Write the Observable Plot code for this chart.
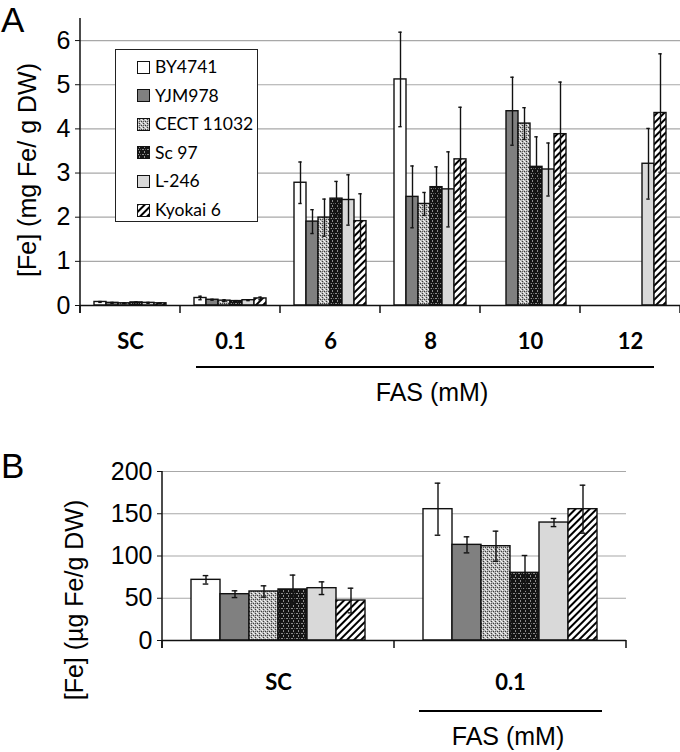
<!DOCTYPE html>
<html><head><meta charset="utf-8">
<script src="https://cdn.jsdelivr.net/npm/d3@7"></script>
<script src="https://cdn.jsdelivr.net/npm/@observablehq/plot@0.6"></script>
<style>
body{margin:0;background:#fff;}
#wrap{position:relative;width:680px;height:752px;background:#fff;overflow:hidden;font-family:"Liberation Sans",Arial,sans-serif;color:#000}
#wrap svg.plot{position:absolute;left:0}
.ytitle{position:absolute;white-space:nowrap;font-size:25px;transform:translate(-50%,-50%) rotate(-90deg);line-height:25px}
.fas{position:absolute;white-space:nowrap;font-size:25px;line-height:25px;transform:translateX(-50%)}
.fasline{position:absolute;height:2px;background:#000}
.panel{position:absolute;font-size:35px;line-height:36px;padding:2px 2px 2px 1px}
#legend{position:absolute;left:115px;top:49px;width:141px;height:171px;border:1px solid #222;background:#fff;font-family:Lato,"Open Sans",sans-serif;font-size:17.5px}
#legend .item{position:absolute;left:21px;height:20px;line-height:20px;display:flex;align-items:center}
#legend .item svg{margin-right:5px}
</style></head><body>
<svg width="0" height="0" style="position:absolute">
<defs>
  <pattern id="pCect" patternUnits="userSpaceOnUse" width="4" height="4">
    <rect width="4" height="4" fill="#b8b8b8"/>
    <rect x="0" y="3" width="1" height="1" fill="#3a3a3a"/>
    <rect x="1" y="2" width="1" height="1" fill="#f2f2f2"/>
    <rect x="2" y="1" width="1" height="1" fill="#3a3a3a"/>
    <rect x="3" y="0" width="1" height="1" fill="#f2f2f2"/>
    <rect x="0" y="1" width="1" height="1" fill="#f2f2f2"/>
    <rect x="2" y="3" width="1" height="1" fill="#5a5a5a"/>
  </pattern>
  <pattern id="pSc" patternUnits="userSpaceOnUse" width="5" height="5">
    <rect width="5" height="5" fill="#141414"/>
    <rect x="2" y="0" width="1" height="2" fill="#8c8c8c"/>
    <rect x="0" y="3" width="2" height="1" fill="#8c8c8c"/>
    <rect x="3" y="3" width="1" height="1" fill="#5a5a5a"/>
  </pattern>
  <pattern id="pKyo" patternUnits="userSpaceOnUse" width="5" height="5" patternTransform="rotate(45)">
    <rect width="5" height="5" fill="#fff"/>
    <rect x="0" y="0" width="2" height="5" fill="#000"/>
  </pattern>
</defs></svg>
<div id="wrap">
  <div class="panel" style="left:0;top:0">A</div>
  <div class="panel" style="left:0;top:446px">B</div>
  <div class="ytitle" style="left:27px;top:170px">[Fe] (mg Fe/ g DW)</div>
  <div class="ytitle" style="left:74px;top:600px">[Fe] (µg Fe/g DW)</div>
  <div class="fasline" style="left:196px;top:366px;width:458px"></div>
  <div class="fas" style="left:432px;top:380px">FAS (mM)</div>
  <div class="fasline" style="left:419px;top:710px;width:183px"></div>
  <div class="fas" style="left:508px;top:724px">FAS (mM)</div>
  <div id="legend"></div>
</div>
<script>
// ---------- data ----------
const strains = ["BY4741", "YJM978", "CECT 11032", "Sc 97", "L-246", "Kyokai 6"];
const catsA = ["SC", "0.1", "6", "8", "10", "12"];
const catsB = ["SC", "0.1"];
const ticksA = [0, 1, 2, 3, 4, 5, 6];
const ticksB = [0, 50, 100, 150, 200];

// Panel A: mg Fe / g DW (rows = strains, columns = catsA)
const valuesA = [
  [0.08, 0.17, 2.78, 5.12, null, null],
  [0.06, 0.13, 1.90, 2.46, 4.40, null],
  [0.05, 0.11, 1.99, 2.30, 4.12, null],
  [0.07, 0.10, 2.42, 2.68, 3.14, null],
  [0.06, 0.12, 2.39, 2.63, 3.08, 3.21],
  [0.05, 0.16, 1.91, 3.31, 3.88, 4.36]
];
const errorsA = [
  [0.01, 0.04, 0.47, 1.07, null, null],
  [0.01, 0.01, 0.27, 0.70, 0.77, null],
  [0.01, 0.02, 0.42, 0.26, 0.36, null],
  [0.01, 0.01, 0.39, 0.46, 0.68, null],
  [0.01, 0.01, 0.57, 0.85, 0.60, 0.80],
  [0.01, 0.03, 0.62, 1.18, 1.18, 1.34]
];
// Panel B: µg Fe / g DW
const valuesB = [
  [71.8, 155.4],
  [54.8, 113.2],
  [58.0, 111.6],
  [60.4, 80.1],
  [61.9, 139.6],
  [47.3, 155.4]
];
const errorsB = [
  [5.0, 30.8],
  [4.0, 9.5],
  [6.7, 17.8],
  [17.0, 20.5],
  [7.5, 4.8],
  [14.6, 28.4]
];

// ---------- styles ----------
const fills = ["#ffffff", "#808080", "url(#pCect)", "url(#pSc)", "#d9d9d9", "url(#pKyo)"];

function rows(cats, vals, errs) {
  const out = [];
  strains.forEach((s, j) => cats.forEach((c, i) => {
    const v = vals[j][i];
    if (v != null) out.push({cat: c, strain: s, value: v, err: errs[j][i]});
  }));
  return out;
}
const rowsA = rows(catsA, valuesA, errorsA);
const rowsB = rows(catsB, valuesB, errorsB);

function makePanel({data, cats, ticks, yDomain, height, margins, xPadOuter, capInset, labelPad}) {
  return Plot.plot({
    width: 680, height,
    marginLeft: margins[0], marginRight: margins[1], marginTop: margins[2], marginBottom: margins[3],
    style: {fontFamily: "Liberation Sans, Arial, sans-serif", fontSize: "26px", color: "black", background: "transparent", overflow: "visible"},
    fx: {domain: cats, paddingInner: 0, paddingOuter: 0},
    x: {domain: strains, paddingInner: 0, paddingOuter: xPadOuter, axis: null},
    y: {domain: yDomain},
    color: {domain: strains, range: fills},
    marks: [
      Plot.gridY(ticks.slice(1), {stroke: "#a8a8a8", strokeOpacity: 1, strokeWidth: 1.2}),
      Plot.barY(data, {fx: "cat", x: "strain", y: "value", fill: "strain", stroke: "#111", strokeWidth: 1.4, inset: 0}),
      Plot.ruleX(data, {fx: "cat", x: "strain", y1: d => d.value - d.err, y2: d => d.value + d.err, stroke: "#111", strokeWidth: 1.4}),
      Plot.tickY(data, {fx: "cat", x: "strain", y: d => d.value + d.err, insetLeft: capInset, insetRight: capInset, stroke: "#111", strokeWidth: 1.4}),
      Plot.tickY(data, {fx: "cat", x: "strain", y: d => d.value - d.err, insetLeft: capInset, insetRight: capInset, stroke: "#111", strokeWidth: 1.4}),
      Plot.ruleY([0], {stroke: "#111", strokeWidth: 1.5}),
      Plot.axisY(ticks, {tickSize: 5, tickPadding: 5, label: null, stroke: "#111", fontSize: 25, fontFamily: "Liberation Sans, Arial, sans-serif"}),
      Plot.axisFx({anchor: "bottom", tickSize: 0, tickPadding: labelPad, fontSize: 22, fontWeight: "bold", fontFamily: "Lato, Open Sans, sans-serif", label: null})
    ]
  });
}

function addAxisLines(plot, cats, yTop, tickLen) {
  const fx = plot.scale("fx"), y = plot.scale("y");
  const bw = fx.bandwidth != null ? fx.bandwidth : (fx.range[1] - fx.range[0]) / cats.length;
  const svg = d3.select(plot);
  const y0 = y.apply(0), yt = y.apply(yTop);
  const xs = cats.map(c => fx.apply(c));
  xs.push(xs[xs.length - 1] + bw);
  svg.append("line").attr("x1", xs[0]).attr("x2", xs[0]).attr("y1", yt).attr("y2", y0 + tickLen)
    .attr("stroke", "#111").attr("stroke-width", 1.5);
  xs.forEach(x => svg.append("line").attr("x1", x).attr("x2", x).attr("y1", y0).attr("y2", y0 + tickLen)
    .attr("stroke", "#111").attr("stroke-width", 1.5));
}

const wrap = document.getElementById("wrap");

const plotA = makePanel({data: rowsA, cats: catsA, ticks: ticksA, yDomain: [0, 6.5], height: 370,
  margins: [80, 0, 18, 65], xPadOuter: 0.97, capInset: 4.3, labelPad: 28});
plotA.classList.add("plot");
plotA.style.top = "0px";
wrap.insertBefore(plotA, wrap.firstChild);
addAxisLines(plotA, catsA, 6.5, 8);

const plotB = makePanel({data: rowsB, cats: catsB, ticks: ticksB, yDomain: [0, 200], height: 260,
  margins: [161, 54, 31, 60], xPadOuter: 0.94, capInset: 11.7, labelPad: 34});
plotB.classList.add("plot");
plotB.style.top = "440px";
wrap.insertBefore(plotB, wrap.firstChild);
addAxisLines(plotB, catsB, 200, 8);

// legend
const legend = document.getElementById("legend");
strains.forEach((s, i) => {
  const item = document.createElement("div");
  item.className = "item";
  item.style.top = (7 + i * 28.6) + "px";
  item.innerHTML = `<svg width="13" height="13"><rect x="0.5" y="0.5" width="12" height="12" fill="${fills[i]}" stroke="#111" stroke-width="1"/></svg><span>${s}</span>`;
  legend.appendChild(item);
});
</script>
</body></html>
